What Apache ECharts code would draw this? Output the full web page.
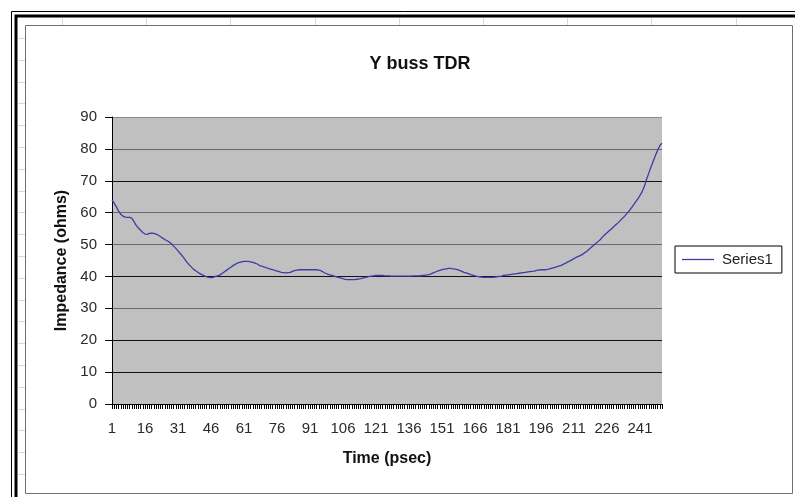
<!DOCTYPE html>
<html>
<head>
<meta charset="utf-8">
<script src="https://cdn.jsdelivr.net/npm/echarts@6/dist/echarts.min.js"></script>
<style>
  html, body { margin: 0; padding: 0; background: #ffffff; }
  #chart { width: 795px; height: 497px; }
</style>
</head>
<body>
<div id="chart"></div>
<script>
// ---- data ----
const chartTitle = 'Y buss TDR';
const xAxisTitle = 'Time (psec)';
const yAxisTitle = 'Impedance (ohms)';
const seriesName = 'Series1';

// time categories 1..251 (psec)
const times = [];
for (let t = 1; t <= 251; t++) times.push(String(t));

// impedance (ohms), one value per time category
const impedance = [
  64.0, 63.0, 61.8, 60.5, 59.5, 58.9, 58.6, 58.5, 58.5, 58.3,
  57.2, 56.0, 55.2, 54.5, 53.8, 53.3, 53.2, 53.5, 53.6, 53.5,
  53.3, 53.0, 52.5, 52.0, 51.6, 51.2, 50.8, 50.3, 49.5, 48.8,
  48.0, 47.2, 46.4, 45.5, 44.5, 43.7, 43.0, 42.3, 41.8, 41.3,
  40.9, 40.5, 40.2, 39.9, 39.7, 39.6, 39.7, 40.0, 40.2, 40.5,
  40.9, 41.4, 41.9, 42.4, 42.9, 43.4, 43.8, 44.2, 44.4, 44.6,
  44.7, 44.7, 44.7, 44.6, 44.4, 44.2, 43.9, 43.5, 43.2, 43.0,
  42.8, 42.5, 42.3, 42.1, 41.9, 41.7, 41.5, 41.3, 41.2, 41.1,
  41.2, 41.3, 41.6, 41.8, 42.0, 42.1, 42.1, 42.1, 42.1, 42.1,
  42.1, 42.1, 42.1, 42.1, 42.0, 41.8, 41.4, 41.0, 40.7, 40.5,
  40.3, 40.1, 39.9, 39.7, 39.5, 39.3, 39.1, 39.0, 39.0, 39.0,
  39.0, 39.1, 39.2, 39.3, 39.5, 39.7, 39.8, 40.0, 40.1, 40.2,
  40.3, 40.3, 40.3, 40.3, 40.2, 40.2, 40.2, 40.1, 40.1, 40.1,
  40.1, 40.1, 40.1, 40.1, 40.1, 40.1, 40.1, 40.2, 40.2, 40.2,
  40.2, 40.3, 40.3, 40.5, 40.6, 40.8, 41.1, 41.4, 41.7, 41.9,
  42.1, 42.3, 42.4, 42.5, 42.5, 42.4, 42.3, 42.1, 41.9, 41.6,
  41.3, 41.1, 40.9, 40.6, 40.4, 40.2, 40.0, 39.9, 39.8, 39.7,
  39.7, 39.7, 39.7, 39.7, 39.8, 39.9, 40.0, 40.1, 40.3, 40.4,
  40.5, 40.6, 40.7, 40.8, 40.9, 41.0, 41.1, 41.2, 41.3, 41.4,
  41.5, 41.6, 41.7, 41.9, 42.0, 42.1, 42.1, 42.1, 42.2, 42.4,
  42.6, 42.8, 43.0, 43.2, 43.4, 43.8, 44.1, 44.5, 44.8, 45.2,
  45.6, 46.0, 46.3, 46.6, 47.0, 47.5, 48.0, 48.6, 49.2, 49.8,
  50.4, 51.0, 51.6, 52.4, 53.1, 53.7, 54.3, 54.9, 55.6, 56.2,
  56.8, 57.5, 58.2, 58.9, 59.7, 60.5, 61.4, 62.4, 63.4, 64.3,
  65.4, 66.6, 68.3, 70.5, 72.4, 74.3, 76.1, 77.9, 79.6, 81.0,
  81.8
];

// value axis ticks
const yMin = 0, yMax = 90, yStep = 10;
// colours of the horizontal gridlines, from 0 up to 90
const gridLineColors = ['#000000', '#111111', '#111111', '#6a6a6a', '#111111',
                        '#6a6a6a', '#6a6a6a', '#111111', '#6a6a6a', '#8a8a8a'];

// ---- chart ----
const FONT = '"Liberation Sans", Arial, sans-serif';
const chart = echarts.init(document.getElementById('chart'), null, { renderer: 'canvas' });

// faint spreadsheet cell lines behind the chart (decoration)
const decor = [];
for (let k = 0; k < 9; k++) {
  const x = Math.round(62 + k * 84.2) + 0.5;
  decor.push({ type: 'line', silent: true, z: -10,
    shape: { x1: x, y1: 18, x2: x, y2: 25 },
    style: { stroke: '#d8d8d8', lineWidth: 1 } });
}
for (let k = 0; k < 21; k++) {
  const y = Math.round(38 + k * 21.8) + 0.5;
  decor.push({ type: 'line', silent: true, z: -10,
    shape: { x1: 18, y1: y, x2: 25, y2: y },
    style: { stroke: '#d8d8d8', lineWidth: 1 } });
}

chart.setOption({
  animation: false,
  backgroundColor: '#ffffff',
  textStyle: { fontFamily: FONT },
  title: {
    text: chartTitle,
    left: 415,
    top: 50,
    textAlign: 'center',
    textStyle: { fontFamily: FONT, fontSize: 18, fontWeight: 'bold', color: '#111111' }
  },
  legend: {
    data: [{ name: seriesName, icon: 'rect' }],
    left: 675,
    top: 246,
    orient: 'vertical',
    backgroundColor: '#ffffff',
    borderColor: '#000000',
    borderWidth: 1,
    borderRadius: 0,
    padding: [6, 9, 6, 7],
    itemWidth: 32,
    itemHeight: 1.3,
    itemStyle: { color: '#3c3ca6', borderWidth: 0 },
    textStyle: { fontFamily: FONT, fontSize: 15, color: '#222222', padding: [0, 0, 0, 3] }
  },
  grid: {
    left: 112,
    top: 117,
    right: 133,
    bottom: 93,
    show: true,
    backgroundColor: '#c0c0c0',
    borderWidth: 0
  },
  xAxis: {
    type: 'category',
    data: times,
    boundaryGap: false,
    name: xAxisTitle,
    nameLocation: 'middle',
    nameGap: 47,
    nameTextStyle: { fontFamily: FONT, fontSize: 16, fontWeight: 'bold', color: '#111111' },
    axisLine: { show: true, lineStyle: { color: '#000000', width: 1 } },
    axisTick: { show: true, interval: 0, length: 5, lineStyle: { color: '#000000', width: 1 } },
    axisLabel: { interval: 14, fontFamily: FONT, fontSize: 15, color: '#2a2a2a', margin: 17 },
    splitLine: { show: false }
  },
  yAxis: {
    type: 'value',
    min: yMin,
    max: yMax,
    interval: yStep,
    name: yAxisTitle,
    nameLocation: 'middle',
    nameGap: 42,
    nameTextStyle: { fontFamily: FONT, fontSize: 16, fontWeight: 'bold', color: '#111111' },
    axisLine: { show: true, lineStyle: { color: '#000000', width: 1 } },
    axisTick: { show: true, length: 7, lineStyle: { color: '#000000', width: 1 } },
    axisLabel: { fontFamily: FONT, fontSize: 15, color: '#2a2a2a', margin: 15 },
    splitLine: { show: true, lineStyle: { color: gridLineColors, width: 1 } }
  },
  series: [{
    name: seriesName,
    type: 'line',
    data: impedance,
    symbol: 'none',
    smooth: false,
    lineStyle: { color: '#3c3ca6', width: 1.3 },
    itemStyle: { color: '#3c3ca6' }
  }],
  graphic: decor.concat([
    { type: 'rect', silent: true, z: 100,
      shape: { x: 11.5, y: 11.5, width: 900, height: 600 },
      style: { fill: 'none', stroke: '#000000', lineWidth: 1 } },
    { type: 'rect', silent: true, z: 100,
      shape: { x: 16, y: 16, width: 900, height: 600 },
      style: { fill: 'none', stroke: '#000000', lineWidth: 3 } },
    { type: 'rect', silent: true, z: 100,
      shape: { x: 25.5, y: 25.5, width: 767, height: 468 },
      style: { fill: 'none', stroke: '#707070', lineWidth: 1 } }
  ])
});
</script>
</body>
</html>
